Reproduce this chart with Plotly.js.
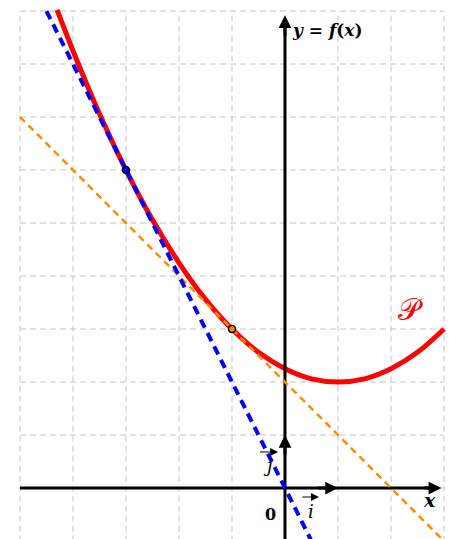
<!DOCTYPE html>
<html>
<head>
<meta charset="utf-8">
<script src="https://cdn.plot.ly/plotly-3.0.1.min.js"></script>
<style>html,body{margin:0;padding:0;background:#fff;}#chart{width:452px;height:539px;}</style>
</head>
<body>
<div id="chart"></div>
<script>
// Curve P: points
const curveX = [-4.3, -4, -3.5, -3, -2.5, -2, -1.5, -1, -0.5, 0, 0.5, 1, 1.5, 2, 2.5, 3];
const curveY = [9.02, 8.25, 7.06, 6, 5.06, 4.25, 3.56, 3, 2.56, 2.25, 2.06, 2, 2.06, 2.25, 2.56, 3];
// Tangent lines (endpoints)
const blueX = [-4.5, 0.5];
const blueY = [9, -1];
const orangeX = [-5, 3];
const orangeY = [7, -1];
// Tangency points
const ptBlue = {x: [-3], y: [6]};
const ptOrange = {x: [-1], y: [3]};
// Grid values
const gridX = [-5, -4, -3, -2, -1, 0, 1, 2, 3];
const gridY = [-1, 0, 1, 2, 3, 4, 5, 6, 7, 8, 9];
// Axis extents
const axisX = [-5, 2.9];
const axisY = [-1, 8.85];

const serif = "DejaVu Serif, Liberation Serif, serif";

const shapes = [];
gridX.forEach(v => shapes.push({type:'line', layer:'below', x0:v, x1:v, y0:-1.2, y1:9,
  line:{color:'#c6c6c6', width:1, dash:'6px,4px'}}));
gridY.forEach(v => shapes.push({type:'line', layer:'below', x0:-5, x1:3, y0:v, y1:v,
  line:{color:'#c6c6c6', width:1, dash:'6px,4px'}}));

const traces = [
  {x: curveX, y: curveY, mode:'lines', line:{color:'#ff0000', width:5, shape:'spline'}, hoverinfo:'skip'},
  {x: axisX, y: [0, 0], mode:'lines', line:{color:'#000', width:3}, hoverinfo:'skip'},
  {x: [0, 0], y: axisY, mode:'lines', line:{color:'#000', width:3}, hoverinfo:'skip'},
  {x: orangeX, y: orangeY, mode:'lines', line:{color:'#ff8c00', width:2.5, dash:'7px,5px'}, hoverinfo:'skip'},
  {x: blueX, y: blueY, mode:'lines', line:{color:'#0000ff', width:4, dash:'9px,6px'}, hoverinfo:'skip'},
  {x: ptBlue.x, y: ptBlue.y, mode:'markers', marker:{color:'#0000ff', size:7, line:{color:'#000', width:1.5}}, hoverinfo:'skip'},
  {x: ptOrange.x, y: ptOrange.y, mode:'markers', marker:{color:'#ff8c00', size:7, line:{color:'#000', width:1.5}}, hoverinfo:'skip'}
];

function arrowHead(x, y, ax, ay) {
  return {x:x, y:y, ax:ax, ay:ay, xref:'x', yref:'y', axref:'x', ayref:'y', text:'',
    showarrow:true, arrowhead:2, arrowsize:0.85, arrowwidth:3, arrowcolor:'#000', standoff:0, startstandoff:0};
}
function smallArrow(x, y, ax, ay) {
  return {x:x, y:y, ax:ax, ay:ay, xref:'x', yref:'y', axref:'x', ayref:'y', text:'',
    showarrow:true, arrowhead:2, arrowsize:1.6, arrowwidth:1, arrowcolor:'#000', standoff:0, startstandoff:0};
}
function label(text, x, y, size, opts) {
  return Object.assign({x:x, y:y, xref:'x', yref:'y', text:text, showarrow:false,
    font:{family:serif, size:size, color:'#000'}}, opts || {});
}

const annotations = [
  arrowHead(2.95, 0, 2.6, 0),
  arrowHead(0, 8.92, 0, 8.5),
  arrowHead(1, 0, 0.6, 0),
  arrowHead(0, 1, 0, 0.6),
  label('<b><i>y</i> = <i>f</i>(<i>x</i>)</b>', 0.1, 8.64, 17, {xanchor:'left'}),
  label('<b><i>x</i></b>', 2.72, -0.22, 19),
  label('<b>0</b>', -0.28, -0.5, 16),
  label('<i>i</i>', 0.5, -0.44, 18),
  smallArrow(0.64, -0.17, 0.3, -0.17),
  label('<i>j</i>', -0.33, 0.43, 18),
  smallArrow(-0.13, 0.68, -0.5, 0.68),
  label('𝒫', 2.36, 3.36, 30, {font:{family:'DejaVu Serif, DejaVu Sans, serif', size:30, color:'#ff0000'}})
];

const layout = {
  width:452, height:539,
  margin:{l:0, r:0, t:0, b:0},
  paper_bgcolor:'#fff', plot_bgcolor:'#fff',
  showlegend:false,
  xaxis:{range:[-5.377, 3.151], visible:false, fixedrange:true},
  yaxis:{range:[-0.962, 9.208], visible:false, fixedrange:true},
  shapes:shapes,
  annotations:annotations
};
Plotly.newPlot('chart', traces, layout, {staticPlot:true, displayModeBar:false});
</script>
</body>
</html>
